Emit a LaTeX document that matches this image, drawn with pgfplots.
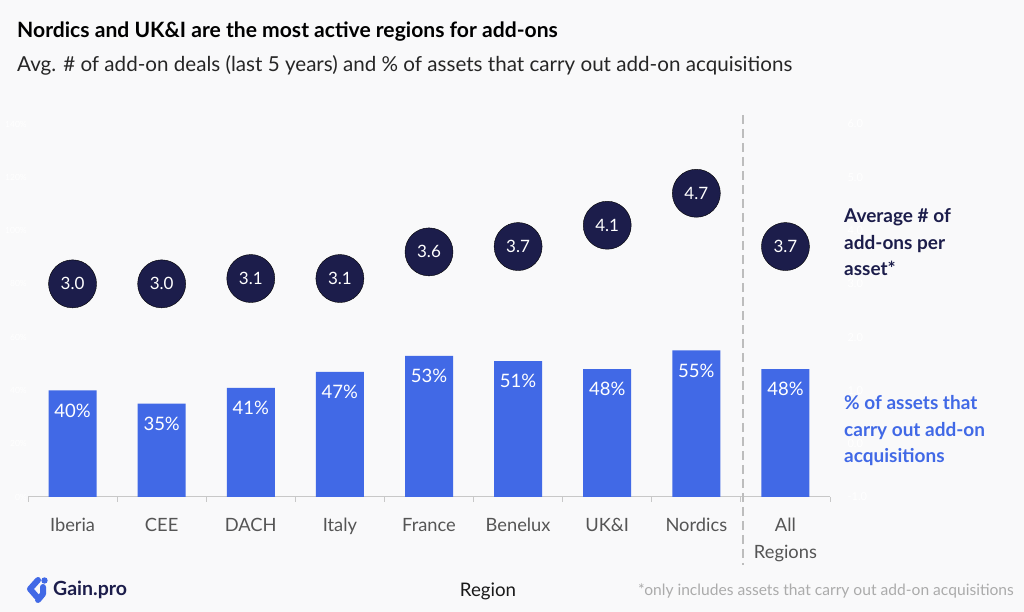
\documentclass[border=0pt]{standalone}
\usepackage{fontspec}
\setmainfont{Lato}
\usepackage{pgfplots}
\usepackage{pgfplotstable}
\pgfplotsset{compat=1.18}
\pgfplotsset{/pgf/number format/assume math mode=true}

\definecolor{bg}{HTML}{F9F9FA}
\definecolor{barblue}{HTML}{4169E6}
\definecolor{navy}{HTML}{1C1D4B}
\definecolor{ticklab}{HTML}{555555}
\definecolor{axisgrey}{HTML}{C8C8C8}
\definecolor{footgrey}{HTML}{ABABAB}
\definecolor{dashgrey}{HTML}{BDBDBD}

% region index, share of assets doing add-ons (%), avg. add-ons per asset
\pgfplotstableread{
idx pct avg
0 40 3.0
1 35 3.0
2 41 3.1
3 47 3.1
4 53 3.6
5 51 3.7
6 48 4.1
7 55 4.7
8 48 3.7
}\regiondata

\begin{document}
\begin{tikzpicture}[x=1pt,y=1pt]
\useasboundingbox (0,0) rectangle (1024,612);
\fill[bg] (0,0) rectangle (1024,612);

% headings
\node[anchor=base west, inner sep=0, text=black,
  font=\fontsize{21.1}{25}\selectfont\bfseries] at (17,574)
  {Nordics and UK\&I are the most active regions for add-ons};
\node[anchor=base west, inner sep=0, text=black!85,
  font=\fontsize{20.6}{24}\selectfont] at (17,540)
  {Avg. \# of add-on deals (last 5 years) and \% of assets that carry out add-on acquisitions};

% bars: share of assets (left scale)
\begin{axis}[
  at={(28pt,115pt)}, anchor=south west, scale only axis,
  width=802pt, height=373pt,
  xmin=-0.5, xmax=8.5, ymin=0, ymax=140,
  axis x line*=bottom, axis y line*=left,
  x axis line style={draw=axisgrey, line width=1pt, -},
  y axis line style={draw=none},
  xtick={0,...,8},
  xticklabels={\strut Iberia,\strut CEE,\strut DACH,\strut Italy,\strut France,
    \strut Benelux,\strut UK\&I,\strut Nordics,\strut All\\Regions},
  xticklabel style={align=center, text=ticklab, anchor=north, inner sep=0pt,
    yshift=-15.1pt, font=\fontsize{18.3}{27}\selectfont},
  xtick style={draw=none},
  extra x ticks={-0.5,0.5,1.5,2.5,3.5,4.5,5.5,6.5,7.5,8.5},
  extra x tick labels={},
  extra x tick style={xtick style={draw=axisgrey, line width=1pt},
    major tick length=5pt, tick align=outside},
  ytick={0,20,...,140}, ytick style={draw=none},
  yticklabel={\pgfmathprintnumber{\tick}\%},
  yticklabel style={text=white, inner sep=1pt, font=\fontsize{8.5}{10}\selectfont},
  clip=false,
]
\addplot[ybar, bar width=48pt, bar shift=0pt, fill=barblue, draw=none,
  nodes near coords={\pgfmathprintnumber{\pgfplotspointmeta}\%},
  nodes near coords style={anchor=center, yshift=-20pt, text=white,
    font=\fontsize{18.5}{22}\selectfont}]
  table[x=idx, y=pct] {\regiondata};
\end{axis}

% circles: average add-ons per asset (right scale)
\begin{axis}[
  at={(28pt,115pt)}, anchor=south west, scale only axis,
  width=802pt, height=373pt,
  xmin=-0.5, xmax=8.5, ymin=-1, ymax=6,
  axis x line=none, axis y line*=right,
  y axis line style={draw=none},
  ytick={-1,0,...,6}, ytick style={draw=none},
  yticklabel style={text=white, xshift=14pt, font=\fontsize{11}{13}\selectfont,
    /pgf/number format/.cd, fixed, fixed zerofill, precision=1},
  clip=false,
]
\addplot[only marks, mark=*, mark size=24pt,
  mark options={fill=navy, draw=none},
  nodes near coords={\pgfmathprintnumber[fixed, fixed zerofill, precision=1]{\pgfplotspointmeta}},
  nodes near coords style={anchor=center, text=white,
    font=\fontsize{17}{20}\selectfont}]
  table[x=idx, y=avg] {\regiondata};
\end{axis}

% separator before the all-regions column
\draw[dashgrey, line width=2.5pt, dash pattern=on 9pt off 5pt] (743,497) -- (743,47);

% series captions
\begin{scope}[every node/.style={anchor=base west, inner sep=0,
    font=\fontsize{19}{22}\selectfont\bfseries}]
  \node[text=navy] at (844,389) {Average \# of};
  \node[text=navy] at (844,362.5) {add-ons per};
  \node[text=navy] at (844,336) {asset*};
  \node[text=barblue] at (844,202) {\% of assets that};
  \node[text=barblue] at (844,175.5) {carry out add-on};
  \node[text=barblue] at (844,149) {acquisitions};
\end{scope}

% axis title and footnote
\node[anchor=base, inner sep=0, text=black!90, font=\fontsize{18.7}{22}\selectfont] at (488,15) {Region};
\node[anchor=base east, inner sep=0, text=footgrey, font=\fontsize{15.6}{19}\selectfont] at (1014,16)
  {*only includes assets that carry out add-on acquisitions};

% logo
\begin{scope}[barblue, line width=6pt, line cap=round, line join=round]
  \draw (38,32) -- (30,23) -- (37,15);
  \draw (43,25) -- (43,18) -- (38,12);
  \fill (44.5,31.5) circle (3.2pt);
\end{scope}
\node[anchor=west, inner sep=0, text=navy, font=\fontsize{19.5}{22}\selectfont\bfseries] at (53,22) {Gain.pro};
\end{tikzpicture}
\end{document}
